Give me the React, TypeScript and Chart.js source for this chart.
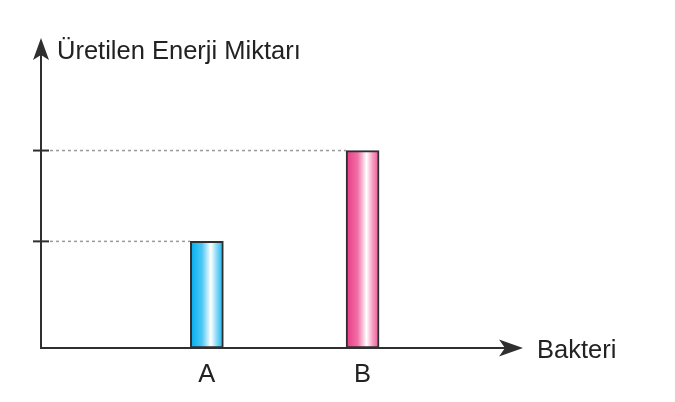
import React, { useEffect, useRef } from 'react';
import { Chart, registerables } from 'chart.js';

// Register Chart.js components
Chart.register(...registerables);

// Chart data
const categories = ['A', 'B'];
const barPositions = [1, 2]; // where each bacterium sits on the x axis
const energyValues = [5.4, 10];
const yTickValues = [5.4, 10];
const yAxisTitle = 'Üretilen Enerji Miktarı';
const xAxisTitle = 'Bakteri';

const FONT = '"Liberation Sans", Arial, Helvetica, sans-serif';
const AXIS_COLOR = '#2f2f2f';

// gradient stops for each bar (edge -> white highlight -> edge)
const barGradients = [
  ['#00aeef', '#4cc7f4', '#ffffff', '#86d9f7', '#12b2ee'],
  ['#ea3a84', '#f06fa6', '#ffffff', '#f6a0c4', '#ec5392'],
];

const axesPlugin = {
  id: 'axesPlugin',
  beforeDatasetsDraw(chart: any) {
    const { ctx, chartArea } = chart;
    const meta = chart.getDatasetMeta(0);
    ctx.save();
    // dotted guide lines from the axis to each bar top
    ctx.strokeStyle = '#9a9a9a';
    ctx.lineWidth = 1.5;
    ctx.setLineDash([3, 3]);
    meta.data.forEach((bar: any) => {
      ctx.beginPath();
      ctx.moveTo(chartArea.left + 9, bar.y);
      ctx.lineTo(bar.x - bar.width / 2, bar.y);
      ctx.stroke();
    });
    ctx.restore();
  },
  afterDatasetsDraw(chart: any) {
    const { ctx, chartArea, scales } = chart;
    const { left, right, top, bottom } = chartArea;
    ctx.save();
    ctx.strokeStyle = AXIS_COLOR;
    ctx.fillStyle = AXIS_COLOR;
    ctx.lineWidth = 2;
    ctx.setLineDash([]);

    // axis lines
    ctx.beginPath();
    ctx.moveTo(left, top + 10);
    ctx.lineTo(left, bottom);
    ctx.lineTo(right - 10, bottom);
    ctx.stroke();

    // arrow heads
    ctx.beginPath();
    ctx.moveTo(left, top);
    ctx.lineTo(left + 8, top + 22);
    ctx.lineTo(left, top + 17);
    ctx.lineTo(left - 8, top + 22);
    ctx.closePath();
    ctx.fill();

    ctx.beginPath();
    ctx.moveTo(right, bottom);
    ctx.lineTo(right - 24, bottom - 8.5);
    ctx.lineTo(right - 18, bottom);
    ctx.lineTo(right - 24, bottom + 8.5);
    ctx.closePath();
    ctx.fill();

    // y tick marks
    yTickValues.forEach((v) => {
      const y = scales.y.getPixelForValue(v);
      ctx.beginPath();
      ctx.moveTo(left - 8, y);
      ctx.lineTo(left + 8, y);
      ctx.stroke();
    });

    // text
    ctx.fillStyle = '#222';
    ctx.font = `25.5px ${FONT}`;
    ctx.textBaseline = 'alphabetic';
    ctx.textAlign = 'left';
    ctx.fillText(yAxisTitle, left + 16, top + 21);
    ctx.fillText(xAxisTitle, right + 14, bottom + 10);

    ctx.textAlign = 'center';
    categories.forEach((c, i) => {
      const x = scales.x.getPixelForValue(barPositions[i]);
      ctx.fillText(c, x, bottom + 34);
    });
    ctx.restore();
  },
};

const App: React.FC = () => {
  const canvasRef = useRef<HTMLCanvasElement | null>(null);

  useEffect(() => {
    if (!canvasRef.current) return;
    const ctx = canvasRef.current.getContext('2d');
    if (!ctx) return;

    const chart = new Chart(ctx, {
      type: 'bar',
      data: {
        datasets: [
          {
            label: 'Üretilen Enerji',
            data: barPositions.map((x, i) => ({ x, y: energyValues[i] })),
            backgroundColor: (context: any) => {
              const chart = context.chart;
              if (!chart.chartArea || context.dataIndex === undefined) return '#ccc';
              const cx = chart.scales.x.getPixelForValue(barPositions[context.dataIndex]);
              const g = chart.ctx.createLinearGradient(cx - 16.5, 0, cx + 16.5, 0);
              const stops = barGradients[context.dataIndex];
              g.addColorStop(0, stops[0]);
              g.addColorStop(0.35, stops[1]);
              g.addColorStop(0.62, stops[2]);
              g.addColorStop(0.8, stops[3]);
              g.addColorStop(1, stops[4]);
              return g;
            },
            borderColor: AXIS_COLOR,
            borderWidth: 2,
            borderSkipped: false,
            barThickness: 33,
          },
        ],
      },
      options: {
        responsive: true,
        maintainAspectRatio: false,
        animation: false,
        layout: { padding: { left: 41, right: 152, top: 38, bottom: 54 } },
        plugins: {
          legend: { display: false },
          tooltip: { enabled: false },
        },
        scales: {
          x: {
            type: 'linear',
            display: false,
            offset: false,
            min: -0.065,
            max: 3.03,
          },
          y: {
            display: false,
            min: 0,
            max: 15.7,
          },
        },
      },
      plugins: [axesPlugin],
    });

    return () => {
      chart.destroy();
    };
  }, []);

  return (
    <div style={{ position: 'fixed', left: 0, top: 0, width: 675, height: 402, background: '#fff' }}>
      <canvas ref={canvasRef} />
    </div>
  );
};

export default App;
